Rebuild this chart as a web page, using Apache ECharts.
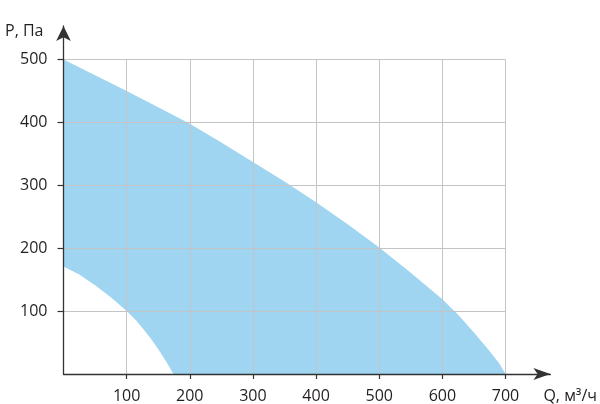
<!DOCTYPE html>
<html><head><meta charset="utf-8">
<script src="https://cdn.jsdelivr.net/npm/echarts@6/dist/echarts.min.js"></script>
<style>html,body{margin:0;padding:0;background:#fff}#c{width:600px;height:404px}</style>
</head><body><div id="c"></div>
<script>
// Data
const upperCurve = [[0,500],[50,475],[100,450],[150,424],[200,398],[250,368],[300,337],[350,306],[400,273],[450,238],[500,201],[550,161],[600,119],[625,94],[650,66],[675,36],[690,17],[700,0]];
const lowerCurve = [[0,171],[25,158],[50,141],[75,122],[100,100],[115,85],[126,72],[140,54],[153,35],[165,16],[174,0]];
const xTicks = [100,200,300,400,500,600,700];
const yTicks = [100,200,300,400,500];
const xName = 'Q, м³/ч';
const yName = 'P, Па';

const font = '"Open Sans", "Noto Sans", sans-serif';
const textColor = '#231f20';
const chart = echarts.init(document.getElementById('c'), null, {renderer:'canvas'});
chart.setOption({
  animation:false,
  grid:[
    {left:63.5, right:94.5, top:59.5, bottom:28.7},
    {left:63.5, right:45, top:26, bottom:28.7}
  ],
  xAxis:[
    {type:'value', gridIndex:0, min:0, max:700, interval:100, z:3,
     axisLine:{show:false},
     axisTick:{show:true, length:5, customValues:xTicks, lineStyle:{color:'#333', width:1.2}},
     splitLine:{show:true, lineStyle:{color:'#c4c4c4', width:1}},
     axisLabel:{margin:14, fontSize:16, color:textColor, fontFamily:font, customValues:xTicks}},
    {type:'value', gridIndex:1, min:0, max:778, z:4,
     axisLine:{show:true, symbol:['none','arrow'], symbolSize:[9,17], lineStyle:{color:'#333', width:1.3}},
     axisTick:{show:false}, splitLine:{show:false}, axisLabel:{show:false},
     name:xName, nameLocation:'end', nameGap:-7,
     nameTextStyle:{fontSize:16, color:textColor, fontFamily:font, align:'left', verticalAlign:'top', lineHeight:16, padding:[14,0,0,0]}}
  ],
  yAxis:[
    {type:'value', gridIndex:0, min:0, max:500, interval:100, z:3,
     axisLine:{show:false},
     axisTick:{show:true, length:6, customValues:yTicks, lineStyle:{color:'#333', width:1.2}},
     splitLine:{show:true, lineStyle:{color:'#c4c4c4', width:1}},
     axisLabel:{margin:16, fontSize:16, color:textColor, fontFamily:font, customValues:yTicks}},
    {type:'value', gridIndex:1, min:0, max:553, z:4,
     axisLine:{show:true, symbol:['none','arrow'], symbolSize:[11,15], lineStyle:{color:'#333', width:1.3}},
     axisTick:{show:false}, splitLine:{show:false}, axisLabel:{show:false},
     name:yName, nameLocation:'end', nameGap:-5,
     nameTextStyle:{fontSize:16, color:textColor, fontFamily:font, align:'right', verticalAlign:'middle', padding:[0,20,0,0]}}
  ],
  series:[
    {type:'line', xAxisIndex:0, yAxisIndex:0, data:upperCurve, smooth:false, symbol:'none',
     lineStyle:{width:0}, areaStyle:{color:'#9fd5f0', opacity:1}, z:1},
    {type:'line', xAxisIndex:0, yAxisIndex:0, data:lowerCurve, smooth:false, symbol:'none',
     lineStyle:{width:0}, areaStyle:{color:'#ffffff', opacity:1}, z:2}
  ]
});
</script></body></html>
